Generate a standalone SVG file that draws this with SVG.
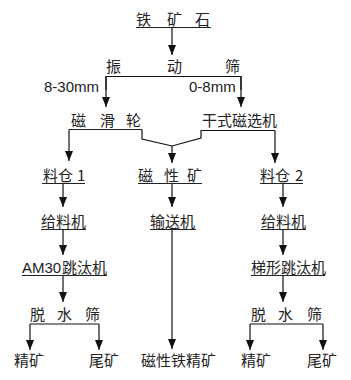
<svg xmlns="http://www.w3.org/2000/svg" width="351" height="380" viewBox="0 0 351 380">
<defs>
<marker id="ah" markerWidth="10" markerHeight="8" refX="10" refY="4" orient="auto" markerUnits="userSpaceOnUse" viewBox="0 0 10 8">
<path d="M0,0 L10,4 L0,8 Z" fill="#111"/>
</marker>
</defs>
<style>
text{font-family:"Noto Sans CJK SC","Liberation Sans",sans-serif;font-size:15px;fill:#222}
.lat{font-family:"Liberation Sans","Noto Sans CJK SC",sans-serif}
.ul{stroke:#222;stroke-width:1;fill:none}
.c{stroke:#111;stroke-width:1.2;fill:none}
.a{stroke:#111;stroke-width:1.2;fill:none;marker-end:url(#ah)}
</style>
<rect width="351" height="380" fill="#fff"/>
<g id="n-tiekuangshi"><text x="136 167 195" y="25">铁矿石</text><line class="ul" x1="136" y1="27.5" x2="211" y2="27.5"/></g>
<g id="n-zhendongshai"><text x="106 167 225" y="72">振动筛</text></g>
<g id="n-cihualun"><text x="71 100 126" y="126">磁滑轮</text><line class="ul" x1="69" y1="129.5" x2="142" y2="129.5"/></g>
<g id="n-ganshi"><text x="202" y="126">干式磁选机</text></g>
<g id="n-liaocang1"><text x="43 58 77" y="181">料仓1</text><line class="ul" x1="42" y1="183.5" x2="85" y2="183.5"/></g>
<g id="n-cixingkuang"><text x="138 164 187" y="181">磁性矿</text><line class="ul" x1="138" y1="183.5" x2="202" y2="183.5"/></g>
<g id="n-liaocang2"><text x="260 275 295" y="181">料仓2</text><line class="ul" x1="260" y1="183.5" x2="303" y2="183.5"/></g>
<g id="n-geiliaoji1"><text x="41" y="227">给料机</text><line class="ul" x1="41" y1="229.5" x2="86" y2="229.5"/></g>
<g id="n-shusongji"><text x="150" y="227">输送机</text><line class="ul" x1="150" y1="229.5" x2="196" y2="229.5"/></g>
<g id="n-geiliaoji2"><text x="261" y="227">给料机</text><line class="ul" x1="261" y1="229.5" x2="306" y2="229.5"/></g>
<g id="n-am30"><text y="273"><tspan class="lat" x="22">AM30</tspan><tspan x="62">跳汰机</tspan></text><line class="ul" x1="22" y1="275.5" x2="107" y2="275.5"/></g>
<g id="n-tixing"><text x="251" y="273">梯形跳汰机</text><line class="ul" x1="251" y1="275.5" x2="325" y2="275.5"/></g>
<g id="n-tuoshui1"><text x="30 57 85" y="320">脱水筛</text></g>
<g id="n-tuoshui2"><text x="251 278 307" y="320">脱水筛</text></g>
<g id="n-jingkuang1"><text x="14" y="366">精矿</text></g>
<g id="n-weikuang1"><text x="89" y="366">尾矿</text></g>
<g id="n-cxtjk"><text x="141" y="366">磁性铁精矿</text></g>
<g id="n-jingkuang2"><text x="241" y="366">精矿</text></g>
<g id="n-weikuang2"><text x="307" y="366">尾矿</text></g>
<g id="labels"><text class="lat" x="44" y="92">8-30mm</text><text class="lat" x="189" y="92">0-8mm</text></g>
<g id="connectors">
<line class="a" x1="172" y1="27.5" x2="172" y2="55"/>
<polyline class="c" points="106,90 106,76.5 241,76.5 241,90"/>
<line class="a" x1="106" y1="76.5" x2="106" y2="107"/>
<line class="a" x1="241" y1="76.5" x2="241" y2="107"/>
<polyline class="c" points="142,129.5 142,139 172,146 201,138 201,130.5 275,130.5"/>
<line class="a" x1="172" y1="146" x2="172" y2="163"/>
<line class="a" x1="69" y1="129.5" x2="69" y2="161"/>
<line class="a" x1="275" y1="130.5" x2="275" y2="163"/>
<line class="a" x1="63" y1="183.5" x2="63" y2="207"/>
<line class="a" x1="172" y1="183.5" x2="172" y2="207"/>
<line class="a" x1="283" y1="183.5" x2="283" y2="207"/>
<line class="a" x1="63" y1="229.5" x2="63" y2="255"/>
<line class="a" x1="283" y1="229.5" x2="283" y2="255"/>
<line class="a" x1="63" y1="275.5" x2="63" y2="302"/>
<line class="a" x1="283" y1="275.5" x2="283" y2="302"/>
<line class="a" x1="172" y1="229.5" x2="172" y2="349"/>
<line class="c" x1="30" y1="324" x2="99" y2="324"/>
<line class="a" x1="30" y1="324" x2="30" y2="350"/>
<line class="a" x1="99" y1="324" x2="99" y2="350"/>
<line class="c" x1="250" y1="324" x2="323" y2="324"/>
<line class="a" x1="250" y1="324" x2="250" y2="350"/>
<line class="a" x1="323" y1="324" x2="323" y2="350"/>
</g>
</svg>
